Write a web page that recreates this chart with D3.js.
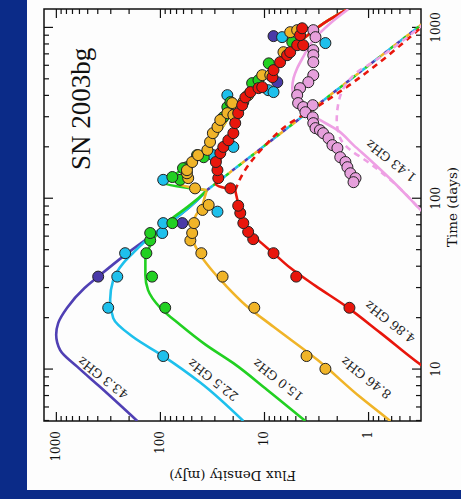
<!DOCTYPE html>
<html>
<head>
<meta charset="utf-8">
<script src="https://cdn.jsdelivr.net/npm/d3@7"></script>
<style>
  body { margin: 0; background: #0b2b88; }
  svg { display: block; }
</style>
</head>
<body>
<svg id="chart" width="461" height="499"></svg>
<script>
// Axis ticks
const timeTicks = [10, 100, 1000];
const fluxTicks = [1, 10, 100, 1000];

// Model curves, [time (days), flux (mJy)]
const fit43 = [[5,165],[7.9,375],[10.4,624],[13,909],[16,993],[18.7,950],[23,779],[30,530],[35,392],[46,225],[60,124],[75,74.5],[98,44],[112,35.5]];
const fit22 = [[5,15.8],[8.4,41],[12,93],[15.5,181],[20,281],[25.5,301],[33.5,281],[42,225],[50,170],[60,124],[75,74.5],[98,44],[112,35.5]];
const fit15 = [[5,4.0],[7.6,9.3],[10.9,19.7],[14,36.5],[18.3,64],[23,99],[29.2,130],[35.8,138],[44,138],[50,130],[60,111],[75,80],[89,55],[103,41],[112,35.5]];
const fit8 = [[5,0.61],[6.9,1.19],[11.4,3.07],[17.8,8.1],[23.9,15.1],[31.3,23.6],[39.3,33],[46.9,41],[57,48],[63,49],[78,46],[92,39],[103,37],[112,35.5]];
const fit4 = [[9,0.21],[10.7,0.314],[16.4,0.76],[23.6,1.65],[30.9,3.2],[39.4,5.6],[48,8.1],[57,11.3],[68,14.6],[82.5,16.9],[98,18],[112,18.9]];
const thinLine = [[112,35.5],[1290,0.196]];
const redDash = [[112,18.9],[138,16.2],[168,13],[203,9.9],[242,7.45],[281,5.45],[317,3.9],[1290,0.196]];
const greenBump = [[112,35.5],[125,93],[136,74.5],[151,60],[172,46],[212,33],[263,25],[330,19.7],[392,15.1],[475,11.3],[589,8.1],[741,5.6],[931,3.6],[1109,2.4],[1286,1.58]];
const yellowBump = [[112,35.5],[124,68],[147,53.5],[175,41],[212,33],[263,25],[330,19.7],[392,15.1],[475,11.3],[589,8.1],[741,5.6],[931,3.6],[1109,2.4],[1286,1.58]];
const redBump = [[112,18.9],[122,29],[138,28.5],[168,26.3],[206,23],[246,20.2],[296,17.7],[363,15.1],[421,13],[475,11.3],[589,8.1],[741,5.6],[931,3.6],[1109,2.4],[1286,1.58]];
const pinkFit = [[75,0.25],[90,0.336],[120,0.53],[168,0.95],[206,1.38],[252,1.97],[289,2.9],[330,4.2],[378,5.0],[444,5.35],[508,5.2],[580,4.8],[676,4.2],[848,3.36],[1065,2.3],[1286,1.55]];
const pinkDash = [[90,0.336],[128,0.6],[168,1.06],[193,1.48],[226,1.85],[289,2.0],[378,1.9],[462,1.65],[551,1.27],[622,0.93],[1290,0.196]];

// Observations, [time (days), flux (mJy)]
const obs43 = [[35,392],[72,61],[481,7.45],[895,8.1]];
const obs22 = [[12,93],[23,314],[35,257],[48,216],[63,95],[72,93],[84,28],[129,93],[180,31],[201,19.7],[404,22.5],[432,9.1],[421,8.1],[883,6.7],[815,2.57]];
const obs15 = [[23,89],[35,119],[48,135],[57,124],[63,124],[72,76],[129,64],[134,76],[153,55],[151,60],[180,44],[175,38],[300,24.6],[344,22.5],[368,21],[475,13],[494,11.3],[620,9],[825,5.35]];
const obs8 = [[10.1,2.57],[12,3.9],[23,12.4],[35,25],[48,40],[57,51],[63,49],[72,47],[86,39],[92,34],[115,46],[132,53.5],[141,55],[147,55],[164,49],[180,43],[193,35],[215,33],[242,31],[263,28],[289,26.3],[317,22.5],[363,20.2],[309,19.7],[368,15.8],[404,14.2],[529,10.4],[529,8.7],[721,6.5],[944,5.6],[970,4.8]];
const obs4 = [[23,1.51],[35,4.9],[48,8.1],[58,12.7],[64,14.2],[72,15.8],[82.5,16.9],[91,17.7],[115,21],[132,27.5],[147,28],[164,29],[185,26.3],[201,24.6],[220,22],[242,19.7],[277,18.9],[317,17.7],[353,16.2],[392,15.1],[421,13.5],[444,11.3],[450,10.4],[515,8.3],[566,8.1],[630,7.0],[692,6.0],[721,5.6],[792,4.8],[792,4.2],[906,4.5],[995,4.3]];
const obs1 = [[970,3.36],[883,3.2],[741,3.36],[692,3.36],[630,3.36],[529,3.36],[481,3.75],[444,4.5],[404,4.8],[363,4.7],[344,4.2],[353,3.4],[321,4.0],[300,3.4],[277,3.36],[259,3.2],[252,2.9],[242,2.7],[226,2.4],[206,2.2],[198,1.97],[175,1.85],[164,1.65],[153,1.58],[141,1.48],[132,1.32],[125,1.38]];

const labels = ['43.3 GHz', '22.5 GHz', '15.0 GHz', '8.46 GHz', '4.86 GHz', '1.43 GHz'];

const colors = {
  c43: '#5040b4', c22: '#1ec0ec', c15: '#22d022',
  c8: '#f0b428', c4: '#e8160c', c1: '#eea0e4',
};

const svg = d3.select('#chart');
svg.append('rect').attr('width', 461).attr('height', 499).attr('fill', '#0b2b88');
svg.append('rect').attr('x', 27).attr('y', 0).attr('width', 434).attr('height', 490)
    .attr('fill', '#fdfdfd');

// The plot is drawn in its usual orientation, then turned a quarter turn
const W = 412;
const H = 377;
const g = svg.append('g').attr('transform', 'translate(44,421) rotate(-90)');

const x = d3.scaleLog().domain([5, 1290]).range([0, W]);
const y = d3.scaleLog().domain([0.31, 1300]).range([H, 0]);

svg.append('defs').append('clipPath').attr('id', 'clip')
    .append('rect').attr('width', W).attr('height', H);

// Axes, ticks pointing in on all four sides
const tMinor = x.ticks().filter((d) => !timeTicks.includes(d));
const fMinor = y.ticks().filter((d) => !fluxTicks.includes(d));
const fmt = d3.format('d');

function styleAxis(sel) {
  sel.select('.domain').remove();
  sel.selectAll('line').attr('stroke', '#111').attr('stroke-width', 1.2);
  sel.selectAll('text').attr('font-family', 'DejaVu Serif, serif')
      .attr('font-size', 12).attr('fill', '#111');
}

g.append('g').attr('transform', `translate(0,${H})`)
    .call(d3.axisBottom(x).tickValues(tMinor).tickSize(-5).tickFormat(''))
    .call(styleAxis);
g.append('g').attr('transform', `translate(0,${H})`)
    .call(d3.axisBottom(x).tickValues(timeTicks).tickSize(-9).tickPadding(10).tickFormat(fmt))
    .call(styleAxis);
g.append('g')
    .call(d3.axisTop(x).tickValues(tMinor).tickSize(-5).tickFormat(''))
    .call(styleAxis);
g.append('g')
    .call(d3.axisTop(x).tickValues(timeTicks).tickSize(-9).tickFormat(''))
    .call(styleAxis);
g.append('g')
    .call(d3.axisLeft(y).tickValues(fMinor).tickSize(-5).tickFormat(''))
    .call(styleAxis);
g.append('g')
    .call(d3.axisLeft(y).tickValues(fluxTicks).tickSize(-9).tickPadding(10).tickFormat(fmt))
    .call(styleAxis);
g.append('g').attr('transform', `translate(${W},0)`)
    .call(d3.axisRight(y).tickValues(fMinor).tickSize(-5).tickFormat(''))
    .call(styleAxis);
g.append('g').attr('transform', `translate(${W},0)`)
    .call(d3.axisRight(y).tickValues(fluxTicks).tickSize(-9).tickFormat(''))
    .call(styleAxis);

g.append('rect').attr('width', W).attr('height', H)
    .attr('fill', 'none').attr('stroke', '#111').attr('stroke-width', 1.5);

// Curves
const plot = g.append('g').attr('clip-path', 'url(#clip)');
const line = d3.line().x((d) => x(d[0])).y((d) => y(d[1])).curve(d3.curveMonotoneX);

function drawLine(data, color, dash, offset) {
  plot.append('path').datum(data)
      .attr('d', line)
      .attr('fill', 'none')
      .attr('stroke', color)
      .attr('stroke-width', 2.6)
      .attr('stroke-dasharray', dash || null)
      .attr('stroke-dashoffset', offset || 0);
}

[colors.c43, colors.c22, colors.c15, colors.c8].forEach((c, i) => {
  drawLine(thinLine, c, '4,12', -4 * i);
});
drawLine(redDash, colors.c4, '6,5');
drawLine(pinkDash, colors.c1, '6,5');

drawLine(fit43, colors.c43);
drawLine(fit22, colors.c22);
drawLine(fit15, colors.c15);
drawLine(fit8, colors.c8);
drawLine(fit4, colors.c4);
drawLine(greenBump, colors.c15);
drawLine(yellowBump, colors.c8);
drawLine(redBump, colors.c4);
drawLine(pinkFit, colors.c1);

// Observations
function drawPoints(data, color) {
  plot.append('g').selectAll('circle')
      .data(data)
      .join('circle')
      .attr('cx', (d) => x(d[0]))
      .attr('cy', (d) => y(d[1]))
      .attr('r', 5.5)
      .attr('fill', color)
      .attr('stroke', '#222')
      .attr('stroke-width', 1);
}

drawPoints(obs43, '#4a3aa8');
drawPoints(obs22, colors.c22);
drawPoints(obs15, colors.c15);
drawPoints(obs8, colors.c8);
drawPoints(obs4, colors.c4);
drawPoints(obs1, '#e6a0dc');

// Frequency labels along the curves
const labelPos = [[43, 59], [41, 169], [41, 234], [43, 322], [99, 346], [260, 347]];
g.selectAll('.flabel')
    .data(labels)
    .join('text')
    .attr('class', 'flabel')
    .attr('transform', (d, i) => `translate(${labelPos[i][0]},${labelPos[i][1]}) rotate(-52)`)
    .attr('text-anchor', 'middle')
    .attr('dominant-baseline', 'central')
    .attr('font-family', 'DejaVu Serif, serif')
    .attr('font-size', 12.5)
    .attr('fill', '#222')
    .text((d) => d);

// Titles
g.append('text')
    .attr('x', 251).attr('y', 46)
    .attr('font-family', 'Liberation Serif, serif')
    .attr('font-size', 27)
    .attr('fill', '#111')
    .text('SN 2003bg');

g.append('text')
    .attr('x', 214).attr('y', H + 36)
    .attr('text-anchor', 'middle')
    .attr('font-family', 'DejaVu Serif, serif')
    .attr('font-size', 13.5)
    .attr('fill', '#111')
    .text('Time (days)');

g.append('text')
    .attr('transform', `translate(-50,${H / 2}) rotate(-90)`)
    .attr('text-anchor', 'middle')
    .attr('font-family', 'DejaVu Serif, serif')
    .attr('font-size', 13.5)
    .attr('fill', '#111')
    .text('Flux Density (mJy)');
</script>
</body>
</html>
